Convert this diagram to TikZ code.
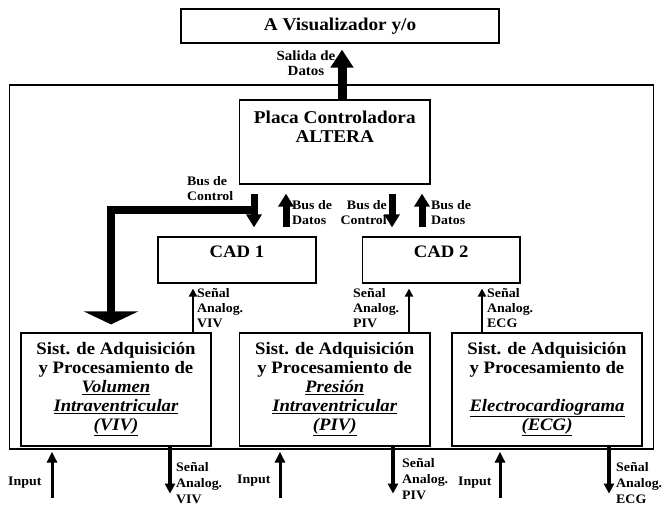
\documentclass[tikz,border=0pt]{standalone}
\usepackage{fontspec}
\setmainfont{Liberation Serif}[FakeStretch=1.07]
\usetikzlibrary{arrows.meta,calc}
\newcommand\mylines[2]{\begin{tabular}[t]{@{}#1@{}}#2\end{tabular}}
\newcommand\uit[1]{\underline{\textit{#1}}}
\tikzset{
  box/.style={draw, line width=1.2pt, inner sep=0pt},
  boxtxt/.style={font=\fontsize{17.5}{19}\selectfont\bfseries, inner sep=0pt},
  lbl/.style={font=\fontsize{13}{15}\selectfont\bfseries, inner sep=0pt},
  lblb/.style={font=\fontsize{13}{16}\selectfont\bfseries, inner sep=0pt},
  bigarrow/.style={line width=9pt, -{Triangle[width=22pt,length=18pt]}},
  busarrow/.style={line width=7pt, -{Triangle[width=15pt,length=13pt]}},
  lbus/.style={line width=8pt, line join=miter, -{Triangle[width=54pt,length=13pt]}},
  sigarrow/.style={line width=2pt, -{Triangle[width=8pt,length=8pt]}},
  inarrow/.style={line width=3pt, -{Triangle[width=10pt,length=11pt]}},
  outarrow/.style={line width=4pt, -{Triangle[width=10pt,length=10pt]}}
}
\begin{document}
\begin{tikzpicture}[x=1pt,y=-1pt]
\useasboundingbox (0,0) rectangle (662,506);
% boxes
\node[box, boxtxt, font=\fontsize{18}{19}\selectfont\bfseries, minimum width=318pt, minimum height=34pt] (vis) at (340,26) {A Visualizador y/o};
\node[box, minimum width=644pt, minimum height=364pt] (outer) at (331.5,267) {};
\node[box, minimum width=190.5pt, minimum height=84pt] (placa) at (334.75,142) {};
\node[boxtxt, font=\fontsize{18}{19}\selectfont\bfseries, anchor=base] (placat) at ($(placa.north)+(0,24)$) {\mylines{c}{Placa Controladora\\ALTERA}};
\node[box, minimum width=158pt, minimum height=46pt] (cad1) at (237,260) {};
\node[boxtxt, anchor=base] (cad1t) at ($(cad1.north)+(0,21)$) {CAD 1};
\node[box, minimum width=157.5pt, minimum height=46pt] (cad2) at (441.25,260) {};
\node[boxtxt, anchor=base] (cad2t) at ($(cad2.north)+(0,21)$) {CAD 2};
\node[box, minimum width=190pt, minimum height=113pt] (viv) at (116,389.5) {};
\node[box, minimum width=190.5pt, minimum height=113pt] (piv) at (334.75,389.5) {};
\node[box, minimum width=190pt, minimum height=113pt] (ecg) at (547,389.5) {};
\node[boxtxt, anchor=base] (vivt) at ($(viv.north)+(0,22)$) {\mylines{c}{Sist. de Adquisición\\y Procesamiento de\\\uit{Volumen}\\\uit{Intraventricular}\\\uit{(VIV)}}};
\node[boxtxt, anchor=base] (pivt) at ($(piv.north)+(0,22)$) {\mylines{c}{Sist. de Adquisición\\y Procesamiento de\\\uit{Presión}\\\uit{Intraventricular}\\\uit{(PIV)}}};
\node[boxtxt, anchor=base] (ecgt) at ($(ecg.north)+(0,22)$) {\mylines{c}{Sist. de Adquisición\\y Procesamiento de\\ \\\uit{Electrocardiograma}\\\uit{(ECG)}}};
% top arrow
\draw[bigarrow] ($(placa.north)+(7.25,0)$) -- ($(vis.south)+(2,6)$);
\node[lbl, font=\fontsize{14}{15}\selectfont\bfseries, anchor=base] (sal) at (306,60) {\mylines{c}{Salida de\\Datos}};
% buses
\coordinate (c1top) at ($(cad1.north)+(17,-9)$);
\draw[lbus] ($(placa.south)+(-80.75,25.5)$) -| ($(viv.north)+(-5,-8)$);
\draw[busarrow] ($(placa.south)+(-80.75,9)$) -- (c1top);
\draw[busarrow] ($(cad1.north)+(49,-9)$) -- ($(placa.south)+(-48.75,9)$);
\draw[busarrow] ($(placa.south)+(57.25,9)$) -- ($(cad2.north)+(-49.25,-9)$);
\draw[busarrow] ($(cad2.north)+(-19.25,-9)$) -- ($(placa.south)+(87.25,9)$);
\node[lbl, anchor=base west] (bc1) at (187,185) {\mylines{l}{Bus de\\Control}};
\node[lbl, anchor=base west] (bd1) at (292,209) {\mylines{l}{Bus de\\Datos}};
\node[lbl, anchor=base east] (bc2) at (387,209) {\mylines{r}{Bus de\\Control}};
\node[lbl, anchor=base west] (bd2) at (431,209) {\mylines{l}{Bus de\\Datos}};
% analog signals up
\draw[sigarrow] ($(viv.north)+(77,0)$) -- ($(cad1.south)+(-44,5)$);
\draw[sigarrow] ($(piv.north)+(74.25,0)$) -- ($(cad2.south)+(-32.25,5)$);
\draw[sigarrow] ($(ecg.north)+(-65,0)$) -- ($(cad2.south)+(40.75,5)$);
\node[lbl, anchor=base west] (s1) at (197,297) {\mylines{l}{Señal\\Analog.\\VIV}};
\node[lbl, anchor=base west] (s2) at (353,297) {\mylines{l}{Señal\\Analog.\\PIV}};
\node[lbl, anchor=base west] (s3) at (487,297) {\mylines{l}{Señal\\Analog.\\ECG}};
% inputs
\coordinate (in1) at ($(viv.south)+(-64,51)$);
\coordinate (in2) at ($(piv.south)+(-54.75,51)$);
\coordinate (in3) at ($(ecg.south)+(-47,51)$);
\draw[inarrow] (in1) -- ($(viv.south)+(-64,5)$);
\draw[inarrow] (in2) -- ($(piv.south)+(-54.75,5)$);
\draw[inarrow] (in3) -- ($(ecg.south)+(-47,5)$);
\node[lbl, anchor=base west] (i1) at (8,485) {Input};
\node[lbl, anchor=base west] (i2) at (237,483) {Input};
\node[lbl, anchor=base west] (i3) at (458,485) {Input};
% outputs
\coordinate (o1) at ($(viv.south)+(54,47)$);
\coordinate (o2) at ($(piv.south)+(58.25,47)$);
\coordinate (o3) at ($(ecg.south)+(62,47)$);
\draw[outarrow] (viv.south -| o1) -- (o1);
\draw[outarrow] (piv.south -| o2) -- (o2);
\draw[outarrow] (ecg.south -| o3) -- (o3);
\node[lblb, anchor=base west] (b1) at (176,471) {\mylines{l}{Señal\\Analog.\\VIV}};
\node[lblb, anchor=base west] (b2) at (402,467) {\mylines{l}{Señal\\Analog.\\PIV}};
\node[lblb, anchor=base west] (b3) at (616,471) {\mylines{l}{Señal\\Analog.\\ECG}};
\end{tikzpicture}
\end{document}
